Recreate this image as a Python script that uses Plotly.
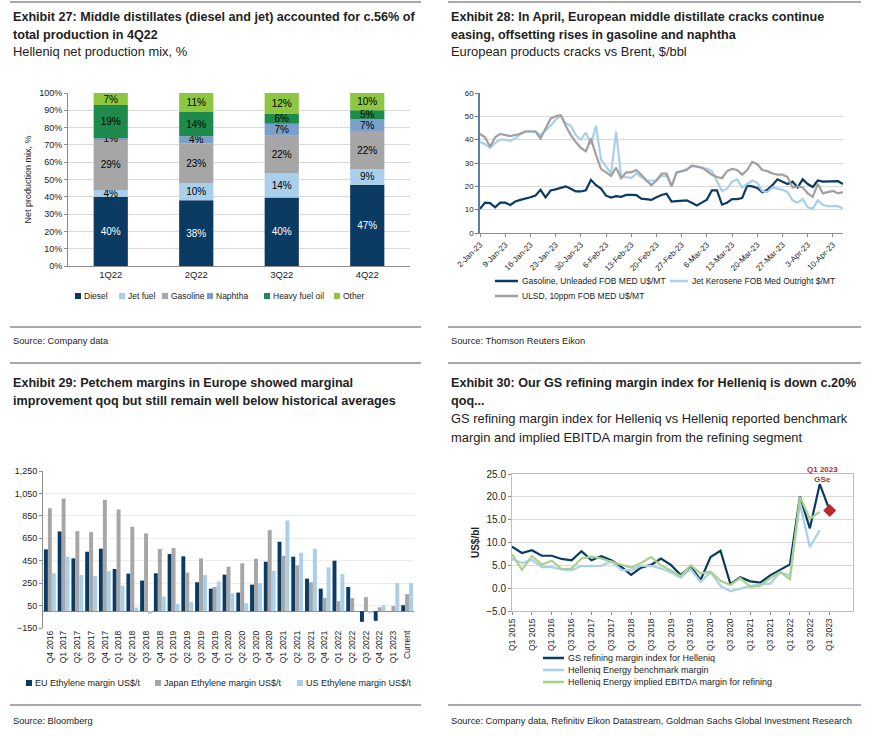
import plotly.graph_objects as go
import pandas as pd

W, H = 874, 736
def X(p): return p / W
def Y(p): return 1 - p / H

HEAD = "Liberation Sans, Arial, sans-serif"
SANS = "Liberation Sans, Arial, sans-serif"

NAVY = "#0b3a63"; LBLUE = "#a9cfea"; GRAY = "#a6a6a6"; MBLUE = "#7a9fc8"
DGREEN = "#1e8a4c"; LGREEN = "#8dc63f"; EGREEN = "#a9d18e"; RED = "#c0272d"
GRID = "#d9d9d9"; AXIS = "#8c8c8c"

# ---------------- Exhibit 27 data ----------------
quarters27 = ["1Q22", "2Q22", "3Q22", "4Q22"]
diesel27 = [40, 38, 40, 47]
jet27 = [4, 10, 14, 9]
gasoline27 = [29, 23, 22, 22]
naphtha27 = [1, 4, 7, 7]
hfo27 = [19, 14, 6, 5]
other27 = [7, 11, 12, 10]

# ---------------- Exhibit 28 data ----------------
dates28 = pd.bdate_range("2023-01-02", "2023-04-12")
cat28 = [d.strftime("%Y-%m-%d") for d in dates28]
gasoline28 = [10.4, 13, 12.8, 11, 13, 13, 12, 13.5, 14.2, 14.6,
              15.3, 16, 18.5, 15.3, 18.2, 18.7, 19.2, 20, 19, 17.8,
              17.8, 18.3, 22.8, 20.5, 19, 16, 15.2, 15.8, 15.5, 16.3,
              16.3, 16.2, 14.7, 14.5, 14.2, 15.3, 16.3, 16.8, 13.5, 13.7,
              13.8, 14, 13, 11.8, 13, 14.3, 18.3, 18.3, 12.2, 13,
              14.5, 14.5, 15, 20.3, 20, 19.3, 17.5, 18.5, 20.5, 23,
              22, 21, 22, 19.5, 23, 21, 19.7, 22.5, 22, 22,
              22, 22.2, 21]
jet28 = [39, 38, 36.5, 38.5, 40, 40, 39.5, 40.5, 42.5, 43.5,
         43.5, 43.5, 42, 44, 46, 48.5, 50.5, 47, 46, 42,
         40, 43, 38, 46, 31.5, 28.5, 25.5, 43.5, 24, 24,
         23.5, 25.5, 24, 22.5, 22.5, 22.5, 24.5, 24.5, 20.5, 26,
         26.5, 27.5, 28.5, 28.5, 28, 27.5, 26.5, 22, 18, 19,
         22, 23, 19.5, 21, 22.5, 21.5, 18, 17.5, 19.5, 19,
         18.5, 17.5, 14, 13, 14.5, 11, 10.5, 14, 12, 11.5,
         11.5, 11.5, 10.5]
ulsd28 = [42.5, 41, 37, 41, 42.5, 42, 41.5, 42, 42.5, 43.5,
          43.5, 43.5, 40.5, 44.5, 49, 50, 50.5, 46, 42, 39,
          36.5, 35, 40.5, 33.5, 27.5, 26, 24.5, 28, 23.5, 26,
          26, 27, 25, 22.5, 20.5, 22.5, 25.5, 25.5, 20, 26,
          26.5, 27, 29, 28.5, 28, 26.5, 25, 24, 23.5, 26.5,
          27.5, 27, 25, 27, 30.5, 29.5, 27, 26.5, 25.5, 25,
          25, 24, 19.5, 20, 19.5, 17, 15.5, 21, 17, 17.5,
          18, 17, 17.5]
ticks28 = cat28[::5]
ticklabels28 = [f"{d.day}-{d.strftime('%b-%y')}" for d in dates28[::5]]

# ---------------- Exhibit 29 data ----------------
cats29 = ["Q4 2016", "Q1 2017", "Q2 2017", "Q3 2017", "Q4 2017", "Q1 2018", "Q2 2018",
          "Q3 2018", "Q4 2018", "Q1 2019", "Q2 2019", "Q3 2019", "Q4 2019", "Q1 2020",
          "Q2 2020", "Q3 2020", "Q4 2020", "Q1 2021", "Q2 2021", "Q3 2021", "Q4 2021",
          "Q1 2022", "Q2 2022", "Q3 2022", "Q4 2022", "Q1 2023", "Current"]
eu29 = [551, 711, 471, 530, 557, 376, 335, 273, 338, 510, 489, 258, 201, 326,
        166, 237, 441, 619, 486, 290, 201, 450, 216, -95, -86, 0, 53]
jp29 = [918, 1004, 714, 705, 993, 907, 753, 693, 554, 563, 344, 471, 216, 397,
        427, 468, 723, 495, 409, 258, 119, 89, 116, 125, 35, 45, 152]
us29 = [338, 486, 323, 314, 358, 228, 33, -24, 130, 65, 83, 323, 264, 160,
        71, 249, 358, 808, 521, 557, 391, 332, 0, -18, 53, 250, 250]
yticks29 = [-150, 50, 250, 450, 650, 850, 1050, 1250]

# ---------------- Exhibit 30 data ----------------
quarters30 = [f"Q{q} {y}" for y in range(2015, 2023) for q in range(1, 5)] + ["Q1 2023"]
gs30 = [9.1, 7.7, 8.3, 7.1, 7.1, 6.4, 6.1, 8.1, 6.1, 7.0, 6.1, 4.7, 2.9, 4.5, 5.1, 6.5,
        5.1, 2.9, 4.7, 1.8, 6.8, 8.2, 0.9, 2.4, 1.5, 1.2, 2.8, 4.0, 5.2, 20.1, 13.1, 22.8, 17.0]
bench30 = [6.4, 5.5, 6.2, 4.6, 4.6, 4.1, 3.9, 4.9, 4.8, 4.9, 5.9, 4.0, 3.9, 4.9, 4.9, 4.3,
           3.5, 2.3, 4.2, 1.4, 3.5, 0.5, -0.7, -0.1, 0.5, 0.8, 1.0, 3.5, 2.8, 18.5, 9.0, 12.7, None]
ebitda30 = [7.4, 4.0, 7.0, 5.2, 6.0, 4.2, 4.3, 6.5, 6.9, 6.5, 5.8, 5.2, 4.5, 5.5, 6.8, 5.0,
            3.9, 2.6, 5.0, 3.2, 3.6, 1.6, 0.7, 2.2, 0.3, 0.5, 2.2, 3.5, 2.0, 20.0, 15.2, 16.7, None]

fig = go.Figure()

# Exhibit 27: 100% stacked bars (heights normalised to the quarter total, labels show values)
series27 = [("Diesel", diesel27, NAVY, "white"), ("Jet fuel", jet27, LBLUE, "black"),
            ("Gasoline", gasoline27, GRAY, "black"), ("Naphtha", naphtha27, MBLUE, "black"),
            ("Heavy fuel oil", hfo27, DGREEN, "black"), ("Other", other27, LGREEN, "black")]
totals27 = [sum(s[1][i] for s in series27) for i in range(len(quarters27))]
cum27 = [0.0] * len(quarters27)
for name, vals, col, tcol in series27:
    heights = [v / t * 100 for v, t in zip(vals, totals27)]
    fig.add_trace(go.Bar(x=quarters27, y=heights, base=list(cum27), name=name, marker_color=col,
                         marker_line_width=0, width=0.4, offsetgroup="stack27", showlegend=False,
                         text=[f"{v}%" for v in vals], textposition="inside",
                         insidetextanchor="middle", textangle=0, constraintext="none",
                         textfont=dict(color=tcol, size=10, family=SANS),
                         xaxis="x", yaxis="y"))
    cum27 = [c + h for c, h in zip(cum27, heights)]

# Exhibit 28 lines
series28 = [("Gasoline, Unleaded FOB MED U$/MT", gasoline28, NAVY),
            ("Jet Kerosene FOB Med Outright $/MT", jet28, LBLUE),
            ("ULSD, 10ppm FOB MED U$/MT", ulsd28, "#a0a0a0")]
for name, vals, col in series28:
    fig.add_trace(go.Scatter(x=cat28, y=vals, name=name, mode="lines", showlegend=False,
                             line=dict(color=col, width=2.2), xaxis="x2", yaxis="y2"))

# Exhibit 29 grouped bars
series29 = [("EU Ethylene margin US$/t", eu29, NAVY),
            ("Japan Ethylene margin US$/t", jp29, GRAY),
            ("US Ethylene margin US$/t", us29, LBLUE)]
for name, vals, col in series29:
    fig.add_trace(go.Bar(x=cats29, y=vals, name=name, marker_color=col, marker_line_width=0,
                         showlegend=False, xaxis="x3", yaxis="y3"))

# Exhibit 30 lines
series30 = [("GS refining margin index for Helleniq", gs30, NAVY),
            ("Helleniq Energy benchmark margin", bench30, LBLUE),
            ("Helleniq Energy implied EBITDA margin for refining", ebitda30, EGREEN)]
for name, vals, col in series30:
    fig.add_trace(go.Scatter(x=quarters30, y=vals, name=name, mode="lines", showlegend=False,
                             line=dict(color=col, width=2.2), xaxis="x4", yaxis="y4"))
fig.add_trace(go.Scatter(x=[quarters30[-1]], y=[gs30[-1]], mode="markers", showlegend=False,
                         marker=dict(symbol="diamond", size=10, color=RED),
                         xaxis="x4", yaxis="y4"))

tickfont = dict(family=SANS, size=9, color="#222")

fig.update_layout(
    width=W, height=H, margin=dict(l=0, r=0, t=0, b=0, autoexpand=False),
    paper_bgcolor="white", plot_bgcolor="white", showlegend=False,
    barmode="group", bargap=0.14, bargroupgap=0,
    font=dict(family=SANS, size=9, color="#222"),
    # Exhibit 27
    xaxis=dict(domain=[X(68), X(410)], anchor="y", showline=True, linecolor=AXIS,
               ticks="", tickfont=dict(family=SANS, size=9.5, color="#222")),
    yaxis=dict(domain=[Y(266), Y(93)], anchor="x", range=[0, 100], dtick=10, ticksuffix="%",
               showgrid=True, gridcolor=GRID, showline=True, linecolor=AXIS, ticks="outside",
               ticklen=3, tickcolor=AXIS, tickfont=tickfont, zeroline=False,
               title=dict(text="Net production mix, %", font=dict(family=SANS, size=9, color="#222"),
                          standoff=6)),
    # Exhibit 28
    xaxis2=dict(domain=[X(480), X(843)], anchor="y2", type="category", range=[0, len(cat28) - 1],
                tickmode="array", tickvals=ticks28, ticktext=ticklabels28, tickangle=-45,
                showline=True, linecolor=AXIS, ticks="outside", ticklen=3, tickcolor=AXIS,
                tickfont=dict(family=SANS, size=8, color="#222")),
    yaxis2=dict(domain=[Y(233), Y(93)], anchor="x2", range=[0, 60], dtick=10, showgrid=True,
                gridcolor=GRID, showline=True, linecolor="#5b7fa5", linewidth=1.5, ticks="outside",
                ticklen=3, tickcolor="#5b7fa5", tickfont=dict(family=SANS, size=8, color="#222"),
                zeroline=False),
    # Exhibit 29
    xaxis3=dict(domain=[X(43), X(414)], anchor="y3", type="category", tickangle=-90,
                showline=False, ticks="", tickfont=dict(family=SANS, size=8.5, color="#222")),
    yaxis3=dict(domain=[Y(628), Y(471)], anchor="x3", range=[-150, 1250], tickmode="array",
                tickvals=yticks29, tickformat=",", showgrid=True, gridcolor="#ececec",
                showline=True, linecolor=AXIS, ticks="outside", ticklen=3, tickcolor=AXIS,
                zeroline=True, zerolinecolor=AXIS, zerolinewidth=1,
                tickfont=dict(family=SANS, size=9, color="#222")),
    # Exhibit 30
    xaxis4=dict(domain=[X(512), X(853)], anchor="y4", type="category", tickmode="array",
                tickvals=quarters30[::2], tickangle=-90, showline=True, mirror=True,
                linecolor="#bfbfbf", ticks="outside", ticklen=3, tickcolor=AXIS,
                tickfont=dict(family=SANS, size=8.5, color="#222")),
    yaxis4=dict(domain=[Y(611), Y(474)], anchor="x4", range=[-5, 25], dtick=5, tickformat=".1f",
                showgrid=True, gridcolor=GRID, showline=True, mirror=True, linecolor="#bfbfbf",
                zeroline=False, ticks="outside", ticklen=3, tickcolor=AXIS,
                tickfont=dict(family=SANS, size=10, color="#222"),
                title=dict(text="<b>US$/bl</b>", font=dict(family=SANS, size=10, color="#222"),
                           standoff=4)),
)

ann = []
shapes = []
def text(x, y, s, size=12, bold=False, family=HEAD, color="#222", anchor="left"):
    ann.append(dict(x=X(x), y=Y(y), xref="paper", yref="paper", xanchor=anchor, yanchor="middle",
                    showarrow=False, align="left",
                    text=f"<b>{s}</b>" if bold else s,
                    font=dict(family=family, size=size, color=color)))

def key_box(x, y, color, label, size=8.5):
    shapes.append(dict(type="rect", xref="paper", yref="paper", x0=X(x), x1=X(x + 6),
                       y0=Y(y + 3), y1=Y(y - 3), fillcolor=color, line=dict(width=0)))
    text(x + 7, y, label, size, family=SANS)

def key_line(x0, x1, y, color, label, size=9):
    shapes.append(dict(type="line", xref="paper", yref="paper", x0=X(x0), x1=X(x1),
                       y0=Y(y), y1=Y(y), line=dict(color=color, width=2.5)))
    text(x1 + 2, y, label, size, family=SANS)

# Headers
LX, RX = 11, 449
TS, SS = 12.6, 12.9
text(LX, 17, "Exhibit 27: Middle distillates (diesel and jet) accounted for c.56% of", TS, True)
text(LX, 35, "total production in 4Q22", TS, True)
text(LX, 52, "Helleniq net production mix, %", SS)
text(RX, 17, "Exhibit 28: In April, European middle distillate cracks continue", TS, True)
text(RX, 35, "easing, offsetting rises in gasoline and naphtha", TS, True)
text(RX, 52, "European products cracks vs Brent, $/bbl", SS)
text(LX, 341, "Source: Company data", 9.3)
text(RX, 341, "Source: Thomson Reuters Eikon", 9.3)
text(LX, 383, "Exhibit 29: Petchem margins in Europe showed marginal", TS, True)
text(LX, 401, "improvement qoq but still remain well below historical averages", TS, True)
text(RX, 383, "Exhibit 30: Our GS refining margin index for Helleniq is down c.20%", TS, True)
text(RX, 401, "qoq...", TS, True)
text(RX, 419, "GS refining margin index for Helleniq vs Helleniq reported benchmark", SS)
text(RX, 437, "margin and implied EBITDA margin from the refining segment", SS)
text(LX, 721, "Source: Bloomberg", 9.3)
text(RX, 721, "Source: Company data, Refinitiv Eikon Datastream, Goldman Sachs Global Investment Research", 9.3)

# Legends
for (name, vals, col, tcol), xk in zip(series27, [75, 119, 162, 207, 264, 334]):
    key_box(xk, 296, col, name)
key_line(495, 518, 281, series28[0][2], series28[0][0], 8.5)
key_line(670, 688, 281, series28[1][2], series28[1][0], 8.5)
key_line(495, 518, 296, series28[2][2], series28[2][0], 8.5)
for (name, vals, col), xk in zip(series29, [26, 155, 297]):
    key_box(xk, 683, col, name, 9)
for (name, vals, col), yk in zip(series30, [658, 670, 682]):
    key_line(543, 564, yk, col, name)

# GSe label
ann.append(dict(x=quarters30[-1], y=Y(474), xref="x4", yref="paper", xanchor="center",
                yanchor="middle", xshift=-7, showarrow=False, text="<b>Q1 2023<br>GSe</b>",
                font=dict(family=SANS, size=8, color=RED)))

for yy in [2, 327, 363, 705]:
    for x0, x1 in [(10, 421), (448, 861)]:
        shapes.append(dict(type="line", xref="paper", yref="paper", x0=X(x0), x1=X(x1),
                           y0=Y(yy), y1=Y(yy), line=dict(color="#8c8c8c", width=1.5)))

fig.update_layout(annotations=ann, shapes=shapes)
fig.write_html("out.html", config={"displayModeBar": False},
               post_script="document.body.style.margin='0';")
